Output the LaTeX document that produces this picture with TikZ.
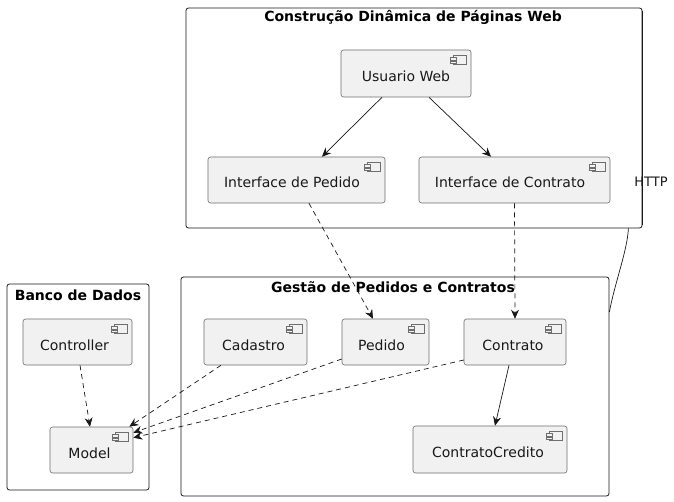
\documentclass[tikz,border=0pt]{standalone}
\usepackage{fontspec}
\setmainfont{DejaVu Sans}
\usepackage{tikz}
\usetikzlibrary{arrows.meta,positioning}
\definecolor{compfill}{RGB}{241,241,241}
\definecolor{compline}{RGB}{110,110,110}
\definecolor{lineblack}{RGB}{24,24,24}

\begin{document}
\begin{tikzpicture}[
    x=1pt, y=-1pt,
    frame/.style={rectangle, draw=lineblack, fill=white, line width=0.8pt,
        rounded corners=2.5pt, inner sep=0pt},
    frametitle/.style={font=\fontsize{14}{16}\selectfont\bfseries, inner sep=0pt},
    comp/.style={rectangle, draw=compline, fill=compfill, line width=0.6pt,
        rounded corners=2.5pt, minimum height=46pt,
        font=\fontsize{14}{16}\selectfont, text=lineblack, inner sep=0pt,
        text height=16pt, text depth=0pt},
    flow/.style={-{Stealth[length=9pt,width=8pt,inset=3pt]}, draw=lineblack, line width=0.7pt},
    dep/.style={flow, dash pattern=on 5pt off 4pt},
    >=Stealth
]
\useasboundingbox (0,0) rectangle (674,502);

% pacotes
\node[frame, minimum width=456pt, minimum height=220pt] (web) at (414,118) {};
\node[frametitle] (webtitle) at (413,17) {Construção Dinâmica de Páginas Web};
\node[frame, minimum width=428pt, minimum height=219pt] (gestao) at (395,386.5) {};
\node[frametitle] (gestaotitle) at (393,287) {Gestão de Pedidos e Contratos};
\node[frame, minimum width=142pt, minimum height=206pt] (banco) at (78,387) {};
\node[frametitle] (bancotitle) at (78,295) {Banco de Dados};

% rotulo da ligacao, com a borda da moldura por cima
\node[font=\fontsize{13}{15}\selectfont, text=lineblack, inner sep=0pt] (http) at (651,182) {HTTP};
\draw[lineblack, line width=0.8pt] ([yshift=-3pt]web.north east) -- ([yshift=3pt]web.south east);

% componentes
\node[comp, minimum width=130pt, minimum height=47pt] (usuario) at (406,73.5) {Usuario Web};
\node[comp, minimum width=177pt] (ipedido) at (296.5,180) {\hspace*{-9pt}Interface de Pedido};
\node[comp, minimum width=191pt] (icontrato) at (514.5,180) {\hspace*{-9pt}Interface de Contrato};
\node[comp, minimum width=109pt] (controller) at (77.5,342) {\hspace*{-6pt}Controller};
\node[comp, minimum width=83pt] (model) at (91.5,450) {\hspace*{-4pt}Model};
\node[comp, minimum width=103pt] (cadastro) at (255.5,342) {\hspace*{-4pt}Cadastro};
\node[comp, minimum width=87pt] (pedido) at (385.5,342) {\hspace*{-8pt}Pedido};
\node[comp, minimum width=102pt] (contrato) at (515,342) {\hspace*{-4pt}Contrato};
\node[comp, minimum width=154pt, minimum height=47pt] (credito) at (490,449.5) {\hspace*{-4pt}ContratoCredito};

% icones
\foreach \n in {usuario,ipedido,icontrato,controller,model,cadastro,pedido,contrato,credito}{
  \begin{scope}[shift={(\n.north east)}, draw=compline, line width=0.5pt]
    \draw[fill=compfill] (-18,6) rectangle (-5,15);
    \draw[fill=compfill] (-21,8) rectangle (-15,10.5);
    \draw[fill=compfill] (-21,11.5) rectangle (-15,14);
  \end{scope}
}

% ligacoes
\draw[flow] ([xshift=-24pt]usuario.south) -- ([xshift=25.5pt]ipedido.north);
\draw[flow] ([xshift=23pt]usuario.south) -- ([xshift=-23.5pt]icontrato.north);
\draw[dep] ([xshift=12.5pt]ipedido.south) -- ([xshift=-12.5pt]pedido.north);
\draw[dep] (icontrato.south) -- (contrato.north);
\draw[dep] ([xshift=2.5pt]controller.south) -- ([xshift=-1.5pt]model.north);
\draw[dep] ([xshift=-34.5pt]cadastro.south) -- ([xshift=-4pt]model.north east);
\draw[dep] ([yshift=-17pt]pedido.west) -- ([yshift=-6pt]model.north east);
\draw[dep] ([yshift=-18pt]contrato.west) -- ([yshift=-11pt]model.north east);
\draw[flow] ([xshift=-6pt]contrato.south) -- ([xshift=5pt]credito.north);

\draw[lineblack, line width=0.7pt] ([xshift=-14pt]web.south east)
    .. controls +(-1,22) and +(5,-28) .. ([yshift=74.5pt]gestao.east);
\end{tikzpicture}
\end{document}
